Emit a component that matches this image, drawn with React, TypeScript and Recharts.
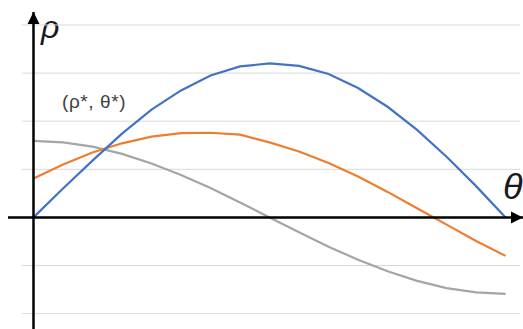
import { LineChart, Line, XAxis, YAxis, ReferenceLine } from "recharts";

// theta steps 0..16 (0 to pi)
const steps = [0, 1, 2, 3, 4, 5, 6, 7, 8, 9, 10, 11, 12, 13, 14, 15, 16];
const blueRho = [0, 0.6, 1.18, 1.74, 2.24, 2.64, 2.95, 3.14, 3.2, 3.15, 2.98, 2.69, 2.3, 1.82, 1.26, 0.65, 0];
const orangeRho = [0.81, 1.1, 1.35, 1.54, 1.68, 1.75, 1.76, 1.72, 1.56, 1.37, 1.13, 0.85, 0.53, 0.19, -0.15, -0.49, -0.8];
const grayRho = [1.59, 1.56, 1.47, 1.32, 1.12, 0.88, 0.61, 0.31, 0, -0.31, -0.61, -0.88, -1.12, -1.32, -1.47, -1.56, -1.59];
const gridValues = [-2, -1, 1, 2, 3, 4];

const X_MIN = -0.864;
const X_MAX = 16.59;
const Y_MIN = -2.32;
const Y_MAX = 4.27;
const GRID_FROM = -0.39;
const GRID_TO = 16.49;

const data = steps.map((k, i) => ({
  k,
  blue: blueRho[i],
  orange: orangeRho[i],
  gray: grayRho[i],
}));

export default function App() {
  return (
    <div style={{ position: "absolute", left: 0, top: 0, width: 523, height: 329, background: "#fff" }}>
      <LineChart width={523} height={329} data={data} margin={{ top: 12, right: 0, left: 8, bottom: 0 }}>
        <defs>
          <marker id="arrowHead" markerUnits="userSpaceOnUse" markerWidth={14} markerHeight={14} refX={12} refY={6} orient="auto">
            <path d="M0,0 L12,6 L0,12 Z" fill="#000" />
          </marker>
        </defs>
        <XAxis type="number" dataKey="k" domain={[X_MIN, X_MAX]} hide allowDataOverflow />
        <YAxis type="number" domain={[Y_MIN, Y_MAX]} hide allowDataOverflow />
        {gridValues.map((v) => (
          <ReferenceLine
            key={v}
            segment={[
              { x: GRID_FROM, y: v },
              { x: GRID_TO, y: v },
            ]}
            stroke="#d9d9d9"
            strokeWidth={1}
            ifOverflow="visible"
          />
        ))}
        <Line type="linear" dataKey="gray" stroke="#a5a5a5" strokeWidth={2.2} dot={false} isAnimationActive={false} />
        <Line type="linear" dataKey="orange" stroke="#ed7d31" strokeWidth={2.2} dot={false} isAnimationActive={false} />
        <Line type="linear" dataKey="blue" stroke="#4472c4" strokeWidth={2.2} dot={false} isAnimationActive={false} />
        <ReferenceLine
          segment={[
            { x: X_MIN, y: 0 },
            { x: X_MAX, y: 0 },
          ]}
          stroke="#000"
          strokeWidth={2.5}
          markerEnd="url(#arrowHead)"
          ifOverflow="visible"
        />
        <ReferenceLine
          segment={[
            { x: 0, y: Y_MIN },
            { x: 0, y: Y_MAX },
          ]}
          stroke="#000"
          strokeWidth={2.5}
          markerEnd="url(#arrowHead)"
          ifOverflow="visible"
        />
        <text x={41} y={38} fontFamily="Liberation Sans, Arial, sans-serif" fontStyle="italic" fontSize={32} fill="#1a1a1a">
          ρ
        </text>
        <text x={503} y={199} fontFamily="Liberation Sans, Arial, sans-serif" fontStyle="italic" fontSize={36} fill="#1a1a1a">
          θ
        </text>
        <text x={62} y={108} fontFamily="Liberation Sans, Arial, sans-serif" fontSize={19} letterSpacing={0.6} fill="#404040">
          (ρ*, θ*)
        </text>
      </LineChart>
    </div>
  );
}
